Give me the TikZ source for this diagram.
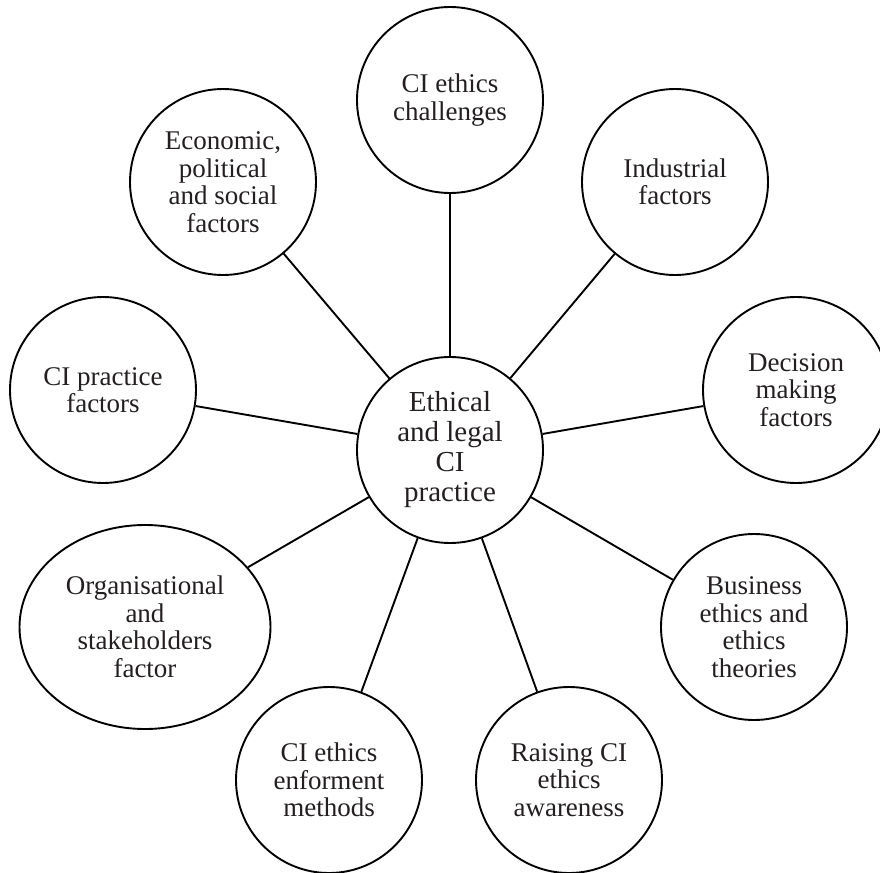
\documentclass[tikz,border=0pt]{standalone}
\usepackage{fontspec}
\setmainfont{Liberation Serif}
\usetikzlibrary{shapes.geometric}
\definecolor{inkgray}{HTML}{231F20}
\begin{document}
\begin{tikzpicture}[x=1pt,y=-1pt,
  bubble/.style={draw=black, line width=1.9pt, circle, minimum size=186pt,
    inner sep=0pt, align=center, text=inkgray,
    font=\fontsize{27}{27.5}\selectfont},
  hub/.style={bubble, font=\fontsize{29}{30}\selectfont},
  oval/.style={bubble, ellipse, minimum width=251pt, minimum height=204pt},
  spoke/.style={draw=black, line width=1.9pt}]
\useasboundingbox (0,0) rectangle (880,872);
% central topic
\node[hub] (core) at (450,450) {Ethical\\and legal\\CI\\practice};
% surrounding factors
\node[bubble] (chal) at (450,100) {CI ethics\\challenges};
\node[bubble] (ind)  at (675,182) {Industrial\\factors};
\node[bubble] (dec)  at (796,390) {Decision\\making\\factors};
\node[bubble] (bus)  at (754,627) {Business\\ethics and\\ethics\\theories};
\node[bubble] (rais) at (569,780) {Raising CI\\ethics\\awareness};
\node[bubble] (enf)  at (329,780) {CI ethics\\enforment\\methods};
\node[oval]   (org)  at (145,627) {Organisational\\and\\stakeholders\\factor};
\node[bubble] (prac) at (103,390) {CI practice\\factors};
\node[bubble] (econ) at (223,182) {Economic,\\political\\and social\\factors};
% spokes from the hub
\foreach \n in {chal,ind,dec,bus,rais,enf,org,prac,econ}
  \draw[spoke] (core) -- (\n);
\end{tikzpicture}
\end{document}
